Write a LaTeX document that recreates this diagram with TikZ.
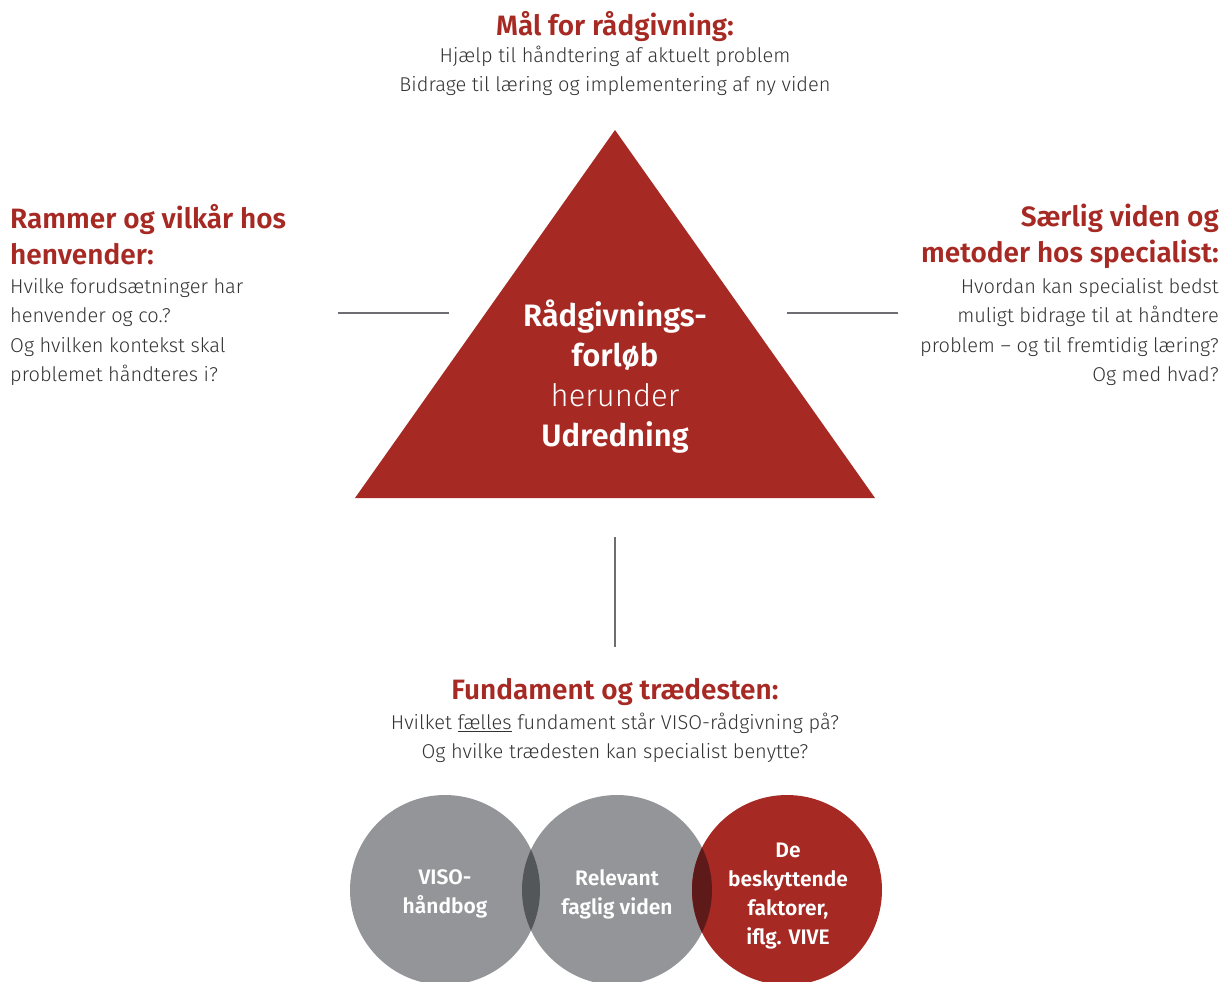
\documentclass[tikz,border=0pt]{standalone}
\usepackage{fontspec}
\setmainfont{Fira Sans Light}[BoldFont={Fira Sans SemiBold}]
\usetikzlibrary{positioning}
\definecolor{vred}{HTML}{A62923}
\definecolor{tekst}{HTML}{333333}
\definecolor{streg}{HTML}{6D6E71}
\definecolor{graa}{HTML}{939598}
\definecolor{moerkgraa}{HTML}{54575A}
\definecolor{moerkred}{HTML}{5E1A18}
\tikzset{
  heading/.style={font=\bfseries\fontsize{28}{36}\selectfont, text=vred, inner sep=0pt},
  body/.style={font=\fontsize{20}{29.5}\selectfont, text=tekst, inner sep=0pt},
  trekanttekst/.style={font=\fontsize{31}{40}\selectfont, text=white, align=center, inner sep=0pt},
  cirkeltekst/.style={font=\bfseries\fontsize{21}{29}\selectfont, text=white, align=center, inner sep=0pt},
  forbind/.style={draw=streg, line width=1.3pt}
}
\begin{document}
\begin{tikzpicture}[x=1pt, y=-1pt]
	\useasboundingbox (0,0) rectangle (1224,982);
	% trekant
	\coordinate (top) at (615,130);
	\coordinate (hojre) at (875,498);
	\coordinate (venstre) at (355,498);
	\fill[vred] (top) -- (hojre) -- (venstre) -- cycle;
	\node[trekanttekst] (forloeb) at (615,377) {\textbf{Rådgivnings-}\\\textbf{forløb}\\herunder\\\textbf{Udredning}};
	% top
	\node[heading, anchor=north] (maal) at (615,11) {Mål for rådgivning:};
	\node[body, align=center, below=4pt of maal] (maaltekst) {Hjælp til håndtering af aktuelt problem\\Bidrage til læring og implementering af ny viden};
	% venstre
	\node[heading, align=left, anchor=north west] (rammer) at (10,204) {Rammer og vilkår hos\\henvender:};
	\node[body, align=left, below right=13pt and 0pt of rammer.south west] (rammertekst) {Hvilke forudsætninger har\\henvender og co.?\\Og hvilken kontekst skal\\problemet håndteres i?};
	% hojre
	\node[heading, align=right, anchor=north east] (saerlig) at (1219,204) {Særlig viden og\\metoder hos specialist:};
	\node[body, align=right, below left=9pt and 0pt of saerlig.south east] (saerligtekst) {Hvordan kan specialist bedst\\muligt bidrage til at håndtere\\problem -- og til fremtidig læring?\\Og med hvad?};
	% bund
	\node[heading, anchor=north] (fundament) at (615,678) {Fundament og trædesten:};
	\node[body, align=center, below=7pt of fundament] (fundamenttekst) {Hvilket \underline{fælles} fundament står VISO-rådgivning på?\\Og hvilke trædesten kan specialist benytte?};
	% streger
	\coordinate (v1) at (338,313);
	\coordinate (v2) at (449,313);
	\coordinate (h1) at (787,313);
	\coordinate (h2) at (898,313);
	\coordinate (b1) at (615,537);
	\coordinate (b2) at (615,647);
	\draw[forbind] (v1) -- (v2);
	\draw[forbind] (h1) -- (h2);
	\draw[forbind] (b1) -- (b2);
	% cirkler
	\fill[graa] (445,890) circle (95);
	\fill[graa] (617,890) circle (95);
	\fill[vred] (787,890) circle (95);
	\begin{scope}
		\clip (445,890) circle (95);
		\fill[moerkgraa] (617,890) circle (95);
	\end{scope}
	\begin{scope}
		\clip (617,890) circle (95);
		\fill[moerkred] (787,890) circle (95);
	\end{scope}
	\node[cirkeltekst] (viso) at (445,894) {VISO-\\håndbog};
	\node[cirkeltekst] (faglig) at (617,894) {Relevant\\faglig viden};
	\node[cirkeltekst] (vive) at (788,896) {De\\beskyttende\\faktorer,\\iflg. VIVE};
\end{tikzpicture}
\end{document}
